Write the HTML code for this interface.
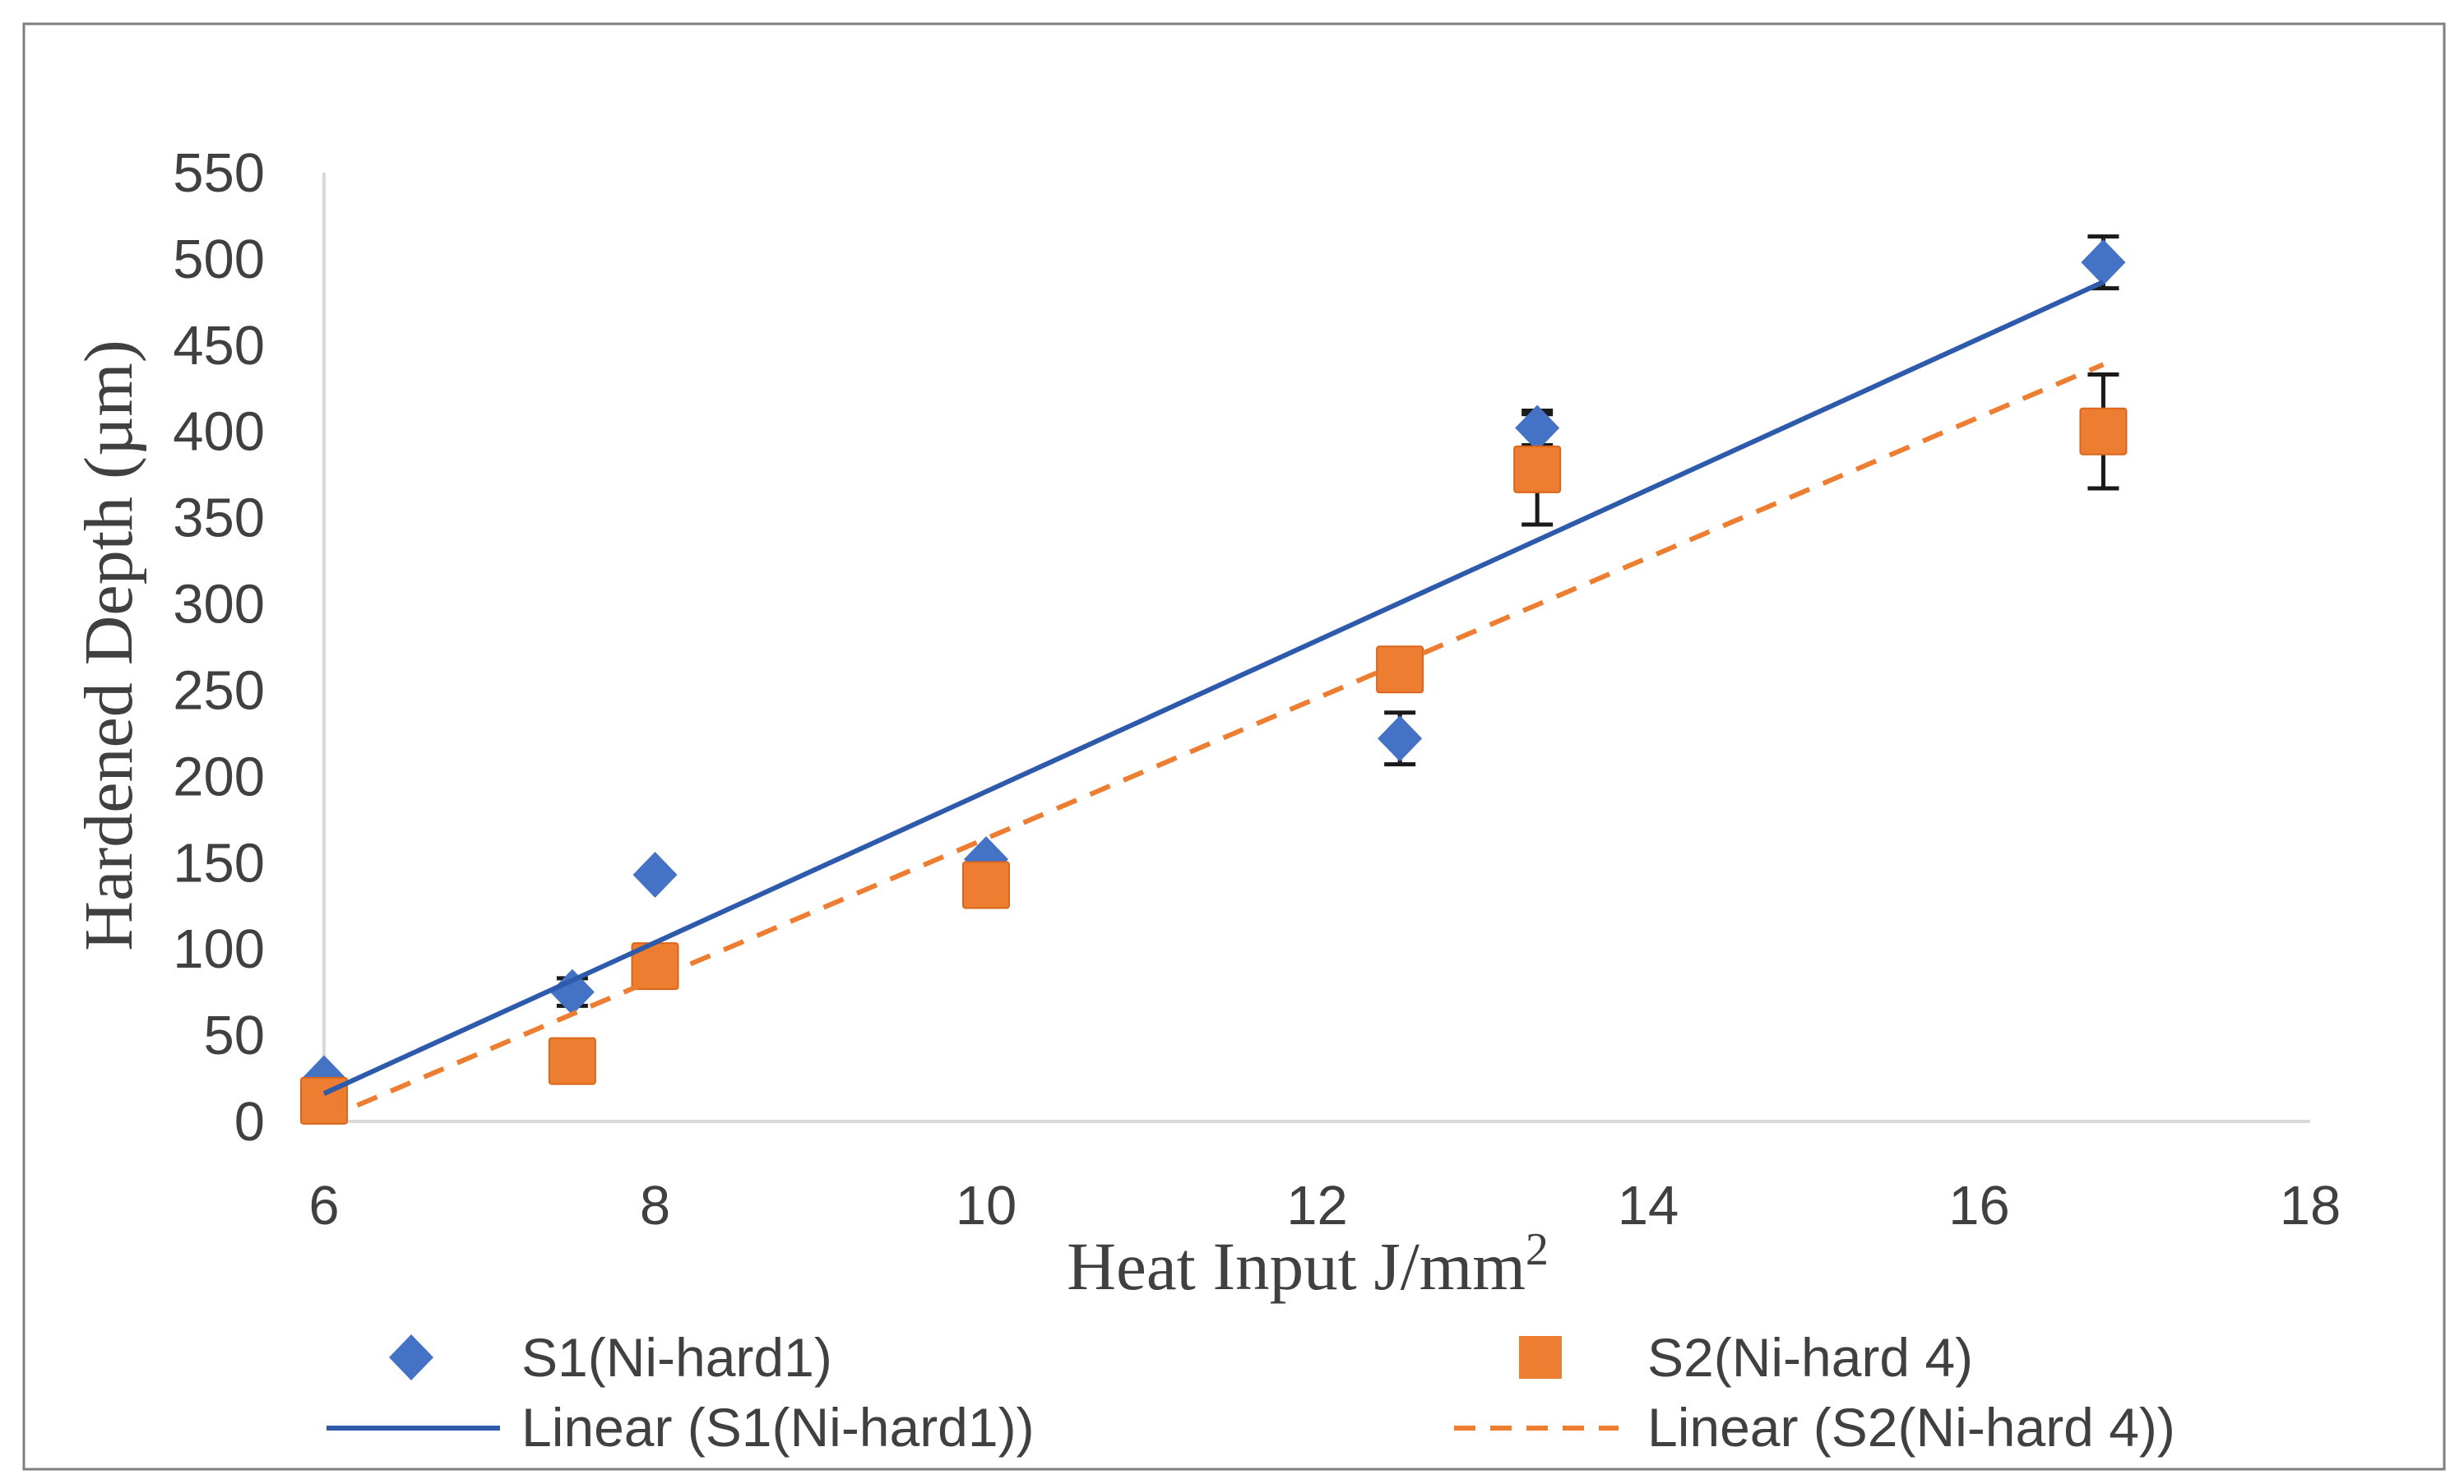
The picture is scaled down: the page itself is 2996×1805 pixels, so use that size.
<!DOCTYPE html>
<html><head><meta charset="utf-8"><style>
html,body{margin:0;padding:0;background:#fff;}
svg{display:block;}
</style></head><body>
<svg id="chart" width="2996" height="1805" viewBox="0 0 2996 1805" xmlns="http://www.w3.org/2000/svg">
<rect x="29" y="29" width="2943" height="1758" fill="#fff" stroke="#7f7f7f" stroke-width="3"/>
<g id="plot"></g>
<text transform="translate(160,785) rotate(-90)" text-anchor="middle" font-family="Liberation Serif, serif" font-size="84" fill="#404040">Hardened Depth (µm)</text>
<text x="1590" y="1568" text-anchor="middle" font-family="Liberation Serif, serif" font-size="83" fill="#404040">Heat Input J/mm<tspan dy="-30" font-size="56">2</tspan></text>
<g font-family="Liberation Sans, sans-serif" font-size="66" fill="#404040">
<polygon points="500,1623 527,1651 500,1679 473,1651" fill="#4472c4"/>
<text x="634" y="1674">S1(Ni-hard1)</text>
<rect x="1847" y="1625" width="52" height="52" fill="#ed7d31"/>
<text x="2003" y="1674">S2(Ni-hard 4)</text>
<line x1="397" y1="1737" x2="608" y2="1737" stroke="#2e5aac" stroke-width="6"/>
<text x="634" y="1759">Linear (S1(Ni-hard1))</text>
<line x1="1768" y1="1737" x2="1968" y2="1737" stroke="#ed7d31" stroke-width="6" stroke-dasharray="26,18"/>
<text x="2003" y="1759">Linear (S2(Ni-hard 4))</text>
</g>
</svg>
<script>
const xTicks = [6, 8, 10, 12, 14, 16, 18];
const yTicks = [0, 50, 100, 150, 200, 250, 300, 350, 400, 450, 500, 550];
const s1X = [6, 7.5, 8, 10, 12.5, 13.33, 16.75];
const s1Y = [25, 75, 143, 152, 222, 402, 498];
const s1Err = [0, 8, 0, 0, 15, 10, 15];
const s2X = [6, 7.5, 8, 10, 12.5, 13.33, 16.75];
const s2Y = [12, 35, 90, 137, 262, 378, 400];
const s2Err = [0, 0, 0, 0, 0, 32, 33];

const NS = 'http://www.w3.org/2000/svg';
const X0 = 394, X1 = 2809, Y0 = 1364, Y1 = 210;
const xMin = 6, xMax = 18, yMin = 0, yMax = 550;
function sx(v){ return X0 + (v - xMin) / (xMax - xMin) * (X1 - X0); }
function sy(v){ return Y0 - (v - yMin) / (yMax - yMin) * (Y0 - Y1); }
const plot = document.getElementById('plot');
function mk(tag, attrs){ const e = document.createElementNS(NS, tag); for (const k in attrs) e.setAttribute(k, attrs[k]); plot.appendChild(e); return e; }

let e = mk('line', {x1: X0, y1: sy(yMax), x2: X0, y2: Y0, stroke: '#d9d9d9', 'stroke-width': 4});


e = mk('line', {x1: X0, y1: Y0, x2: X1, y2: Y0, stroke: '#d9d9d9', 'stroke-width': 4});



yTicks.forEach(t => {
  const tx = mk('text', {x: 322, y: sy(t) + 23, 'text-anchor': 'end', 'font-family': 'Liberation Sans, sans-serif', 'font-size': 67, fill: '#404040'});
  tx.textContent = t;
  
  
});
xTicks.forEach(t => {
  const tx = mk('text', {x: sx(t), y: 1489, 'text-anchor': 'middle', 'font-family': 'Liberation Sans, sans-serif', 'font-size': 67, fill: '#404040'});
  tx.textContent = t;
  
  
});

function fit(xs, ys){
  const n = xs.length; const mx = xs.reduce((a,b)=>a+b,0)/n; const my = ys.reduce((a,b)=>a+b,0)/n;
  let sxy = 0, sxx = 0; for (let i=0;i<n;i++){ sxy += (xs[i]-mx)*(ys[i]-my); sxx += (xs[i]-mx)**2; }
  const m = sxy/sxx; return [m, my - m*mx];
}
function errorBars(xs, ys, errs, name){
  xs.forEach((x,i) => {
    if (!errs[i]) return;
    const g = mk('g', {stroke: '#1a1a1a', 'stroke-width': 5});
    
    
    const cx = sx(x), a = sy(ys[i]+errs[i]), b = sy(ys[i]-errs[i]);
    [[cx,a,cx,b],[cx-19,a,cx+19,a],[cx-19,b,cx+19,b]].forEach(l => {
      const ln = document.createElementNS(NS, 'line');
      ln.setAttribute('x1', l[0]); ln.setAttribute('y1', l[1]); ln.setAttribute('x2', l[2]); ln.setAttribute('y2', l[3]);
      g.appendChild(ln);
    });
  });
}
errorBars(s1X, s1Y, s1Err, 's1-error-bar');
errorBars(s2X, s2Y, s2Err, 's2-error-bar');
// S1 markers
s1X.forEach((x,i) => {
  const cx = sx(x), cy = sy(s1Y[i]);
  const p = mk('polygon', {points: `${cx},${cy-28} ${cx+27},${cy} ${cx},${cy+28} ${cx-27},${cy}`, fill: '#4472c4'});
  
  
});
// S2 markers
s2X.forEach((x,i) => {
  const cx = sx(x), cy = sy(s2Y[i]);
  const r = mk('rect', {x: cx-28, y: cy-28, width: 56, height: 56, fill: '#ed7d31', stroke: '#d9661c', 'stroke-width': 2, rx: 3});
  
  
});
// trendlines
const f1 = fit(s1X, s1Y), f2 = fit(s2X, s2Y);
const xa = Math.min(...s1X), xb = Math.max(...s1X);
e = mk('line', {x1: sx(xa), y1: sy(f1[0]*xa+f1[1]), x2: sx(xb), y2: sy(f1[0]*xb+f1[1]), stroke: '#2e5aac', 'stroke-width': 6});


const xc = Math.min(...s2X), xd = Math.max(...s2X);
e = mk('line', {x1: sx(xc), y1: sy(f2[0]*xc+f2[1]), x2: sx(xd), y2: sy(f2[0]*xd+f2[1]), stroke: '#ed7d31', 'stroke-width': 6, 'stroke-dasharray': '26,18'});


</script>
</body></html>
